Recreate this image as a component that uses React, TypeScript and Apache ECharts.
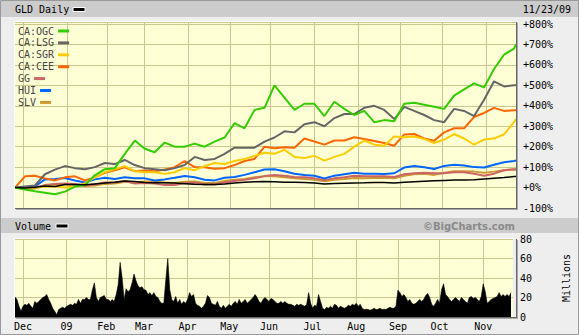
import { useEffect, useRef } from "react";
import * as echarts from "echarts";

// ---- axis / time data ----
const N = 252; // trading days, Nov 24 2008 .. Nov 23 2009
const monthStarts = [4, 26, 46, 65, 87, 108, 128, 150, 172, 193, 214, 236];
const monthLabels = ["Dec", "09", "Feb", "Mar", "Apr", "May", "Jun", "Jul", "Aug", "Sep", "Oct", "Nov"];
const pctTicks = { min: -100, max: 810, interval: 100 };
const volTicks = { min: 0, max: 80, interval: 20 };

// weekly sample days (trading-day index) for the percent-change lines
const sampleDays = [0,5,10,15,20,25,30,35,40,45,50,55,60,65,70,75,80,85,90,95,100,105,110,115,120,125,130,135,140,145,150,155,160,165,170,175,180,185,190,195,200,205,210,215,220,225,230,235,240,245,250,251];

// percent change series
const ogc = [0,-10,-18,-25,-33,-20,5,12,60,90,95,165,230,190,173,220,200,200,215,200,225,245,315,290,380,390,500,440,380,410,410,350,420,385,355,375,320,330,325,410,415,405,395,385,450,480,510,490,580,650,680,700];
const lsg = [0,5,10,65,88,105,95,90,100,120,115,135,110,95,90,85,95,110,150,135,140,165,195,195,195,225,245,275,270,310,320,300,340,360,360,390,400,380,335,395,375,355,330,320,385,375,350,430,520,495,500,500];
const sgr = [0,-3,0,5,5,0,5,20,50,75,90,105,80,75,75,67,75,95,85,105,120,115,130,140,155,170,165,185,150,145,155,132,150,165,200,230,210,205,250,246,250,238,218,235,262,240,210,235,240,260,320,335];
const cee = [0,55,58,45,35,50,55,35,50,72,85,99,80,83,80,88,100,130,100,99,92,95,110,130,140,200,192,197,195,240,225,210,230,230,246,238,228,218,205,260,262,240,229,270,290,290,345,365,390,375,378,378];
const gg = [0,-3,0,12,18,20,18,10,15,25,25,32,20,22,20,12,12,22,25,15,15,25,32,38,45,56,62,58,52,50,45,37,45,50,58,55,55,55,52,65,70,72,70,70,75,75,68,58,68,85,90,88];
const hui = [0,3,5,40,42,47,35,25,40,48,42,50,45,45,35,40,48,57,50,38,35,48,52,62,75,88,90,80,68,62,58,45,58,65,72,68,68,66,70,98,105,99,91,106,112,108,100,98,112,124,130,132];
const slv = [0,-8,-5,10,15,15,12,8,10,18,20,28,25,30,30,25,22,28,30,22,22,32,38,42,50,55,55,50,45,42,38,31,38,42,47,45,47,48,45,58,65,67,62,72,80,80,78,72,78,85,88,88];
const gld = [0,-2,2,8,5,15,15,14,18,22,26,32,30,25,24,23,22,19,16,15,15,18,22,26,29,30,28,26,26,25,22,18,20,21,22,23,25,25,22,26,29,31,33,35,37,37,38,42,46,49,54,54];

// daily volume, millions (GLD)
const volume = [
  20.6,18,11,6,11,13,12,14,11,9,16,14,16,18,20,21,23,18,14,9,6,2.4,7.6,9,10,9,11,12,13,12,
  14,13,18,14,18,18,20,18,18,28,35,20,16,20,21,22,18,18,16,18,16,23,33,56,40,18,29,26,28,35,
  44,37,32,30,31,28,27.5,23,25,22,25,21,20,16,14,14,
  38,60,28,18,16,21,14,18,13,16,14,18,25,21,23,14,12,11,9,11,14,22,20,14,13,12,16,11,9,12,
  9,11,13,11,14,16,13,18,14,16,18,14,16,18,20,23,20,16,14,18,20,18,16,19,18,16,14,14,16,14,16,14,13,
  13,12,11,13,12,13,12,11,13,25,14,9,12,11,23,16,9,7.6,10,9,11,9,13,12,9,11,10,9,10,12,
  11,13,12,14,11,13,9,7.6,8,7.6,7,7.6,9,7.6,8,9,7.6,8,7.6,9,10,9,9,11,27.5,25,21,23,20,16,
  18,14,13,14,16,18,16,18,22,24,20,13,11,14,18,14,28,34,23,21,18,16,18,20,18,16,20,18,16,14,
  20,21,19,20,18,16,21,34,26,14,16,18,19,20,21,25,21,23,21,23,21,25
];

const seriesNames = ["CA:OGC", "CA:LSG", "CA:SGR", "CA:CEE", "GG", "HUI", "SLV"];
const seriesValues = [ogc, lsg, sgr, cee, gg, hui, slv];
const seriesColors = ["#33CC00", "#666666", "#FFCC00", "#FF6600", "#CC6666", "#0066FF", "#CC9933"];

const MONO = "DejaVu Sans Mono";
const GRID_LINE = "#C9C98F";
const PLOT_BG = "#FFFFD6";

function buildOption(): any {
  const categories = Array.from({ length: N }, (_, i) => String(i));
  const isMonth = (i: number) => monthStarts.indexOf(i) >= 0;
  const pairs = (vals: number[]) => vals.map((v, i) => [sampleDays[i], v]);

  const lineSeries: any[] = [];
  const order = [6, 4, 5, 3, 2, 1, 0];
  order.forEach((k) => {
    lineSeries.push({
      name: seriesNames[k],
      type: "line",
      xAxisIndex: 0,
      yAxisIndex: 0,
      data: pairs(seriesValues[k]),
      symbol: "none",
      lineStyle: { width: 2, color: seriesColors[k] },
      itemStyle: { color: seriesColors[k] },
      z: 3,
    });
  });
  lineSeries.push({
    name: "GLD",
    type: "line",
    xAxisIndex: 0,
    yAxisIndex: 0,
    data: pairs(gld),
    symbol: "none",
    lineStyle: { width: 1.5, color: "#000" },
    itemStyle: { color: "#000" },
    z: 4,
  });
  lineSeries.push({
    name: "Volume",
    type: "line",
    xAxisIndex: 1,
    yAxisIndex: 1,
    data: volume,
    symbol: "none",
    lineStyle: { width: 0.6, color: "#000" },
    areaStyle: { color: "#000", opacity: 1 },
    z: 3,
  });

  const xBase = (gridIndex: number, showLabels: boolean) => ({
    type: "category",
    gridIndex,
    data: categories,
    boundaryGap: false,
    axisLine: { show: false },
    axisTick: { show: false },
    splitLine: {
      show: true,
      interval: (i: number) => isMonth(i),
      lineStyle: { color: GRID_LINE, width: 1 },
    },
    axisLabel: {
      show: showLabels,
      interval: (i: number) => isMonth(i),
      formatter: (_v: string, i: number) => {
        const k = monthStarts.indexOf(i);
        return k >= 0 ? monthLabels[k] : "";
      },
      margin: 4,
      color: "#000",
      fontFamily: MONO,
      fontSize: 10,
    },
  });

  const bevel = (x1: number, y1: number, x2: number, y2: number) => [
    { type: "line", z: 20, shape: { x1, y1: y1 - 0.5, x2, y2: y1 - 0.5 }, style: { stroke: "#FFFFFF", lineWidth: 1 } },
    { type: "line", z: 20, shape: { x1: x1 - 0.5, y1, x2: x1 - 0.5, y2 }, style: { stroke: "#FFFFFF", lineWidth: 1 } },
    { type: "line", z: 20, shape: { x1, y1: y2 + 0.5, x2: x2 + 1, y2: y2 + 0.5 }, style: { stroke: "#666666", lineWidth: 1 } },
    { type: "line", z: 20, shape: { x1: x2 + 0.5, y1, x2: x2 + 0.5, y2: y2 + 1 }, style: { stroke: "#666666", lineWidth: 1 } },
    { type: "line", z: 20, shape: { x1: x2 + 1.5, y1: y1 + 1, x2: x2 + 1.5, y2: y2 + 2 }, style: { stroke: "#AAAAAA", lineWidth: 1 } },
    { type: "line", z: 20, shape: { x1: x1 + 1, y1: y2 + 1.5, x2: x2 + 2, y2: y2 + 1.5 }, style: { stroke: "#AAAAAA", lineWidth: 1 } },
  ];

  const legends = seriesNames.map((name, i) => ({
    data: [name],
    orient: "horizontal",
    left: 18,
    top: 25 + i * 11.9,
    align: "right",
    icon: "rect",
    itemWidth: 11,
    itemHeight: 3,
    itemGap: 0,
    padding: 0,
    selectedMode: false,
    textStyle: { fontFamily: MONO, fontSize: 10, color: "#444", lineHeight: 12, padding: [0, -1, 0, 0] },
  }));

  return {
    animation: false,
    backgroundColor: "#EEEEEE",
    textStyle: { fontFamily: MONO },
    grid: [
      { left: 15, right: 63, top: 22, height: 186, show: true, backgroundColor: PLOT_BG, borderWidth: 0 },
      { left: 15, right: 63, top: 239, height: 78, show: true, backgroundColor: PLOT_BG, borderWidth: 0 },
    ],
    legend: legends,
    xAxis: [xBase(0, false), xBase(1, true)],
    yAxis: [
      {
        type: "value",
        gridIndex: 0,
        position: "right",
        min: pctTicks.min,
        max: pctTicks.max,
        interval: pctTicks.interval,
        axisLine: { show: false },
        axisTick: { show: false },
        splitLine: { show: true, lineStyle: { color: GRID_LINE, width: 1 } },
        axisLabel: {
          showMaxLabel: false,
          margin: 7,
          color: "#000",
          fontFamily: MONO,
          fontSize: 10,
          formatter: (v: number) => (v >= 0 ? `+${v}%` : `${v}%`),
        },
      },
      {
        type: "value",
        gridIndex: 1,
        position: "right",
        min: volTicks.min,
        max: volTicks.max,
        interval: volTicks.interval,
        name: "Millions",
        nameLocation: "middle",
        nameRotate: 90,
        nameGap: 48,
        nameTextStyle: { fontFamily: MONO, fontSize: 10, color: "#000" },
        axisLine: { show: false },
        axisTick: { show: false },
        splitLine: { show: true, lineStyle: { color: GRID_LINE, width: 1 } },
        axisLabel: { margin: 7, color: "#000", fontFamily: MONO, fontSize: 10 },
      },
    ],
    graphic: [
      { type: "rect", z: 0, shape: { x: 0.5, y: 0.5, width: 578, height: 334 }, style: { fill: "none", stroke: "#999999", lineWidth: 1 } },
      { type: "rect", z: 1, shape: { x: 1, y: 1, width: 577, height: 16 }, style: { fill: "#CCCCCC" } },
      { type: "text", z: 2, x: 15, y: 9.5, style: { text: "GLD Daily", fontFamily: MONO, fontSize: 10, fill: "#000", verticalAlign: "middle" } },
      { type: "rect", z: 2, shape: { x: 73, y: 7.5, width: 12, height: 4 }, style: { fill: "#000", stroke: "#FFFFFF", lineWidth: 1 } },
      { type: "text", z: 2, x: 571, y: 9.5, style: { text: "11/23/09", fontFamily: MONO, fontSize: 10, fill: "#000", align: "right", verticalAlign: "middle" } },
      { type: "rect", z: 1, shape: { x: 1, y: 218, width: 577, height: 15 }, style: { fill: "#CCCCCC" } },
      { type: "text", z: 2, x: 15, y: 226, style: { text: "Volume", fontFamily: MONO, fontSize: 10, fill: "#000", verticalAlign: "middle" } },
      { type: "rect", z: 2, shape: { x: 56, y: 224, width: 12, height: 4 }, style: { fill: "#000", stroke: "#FFFFFF", lineWidth: 1 } },
      { type: "text", z: 2, x: 515, y: 226, style: { text: "©BigCharts.com", fontFamily: "DejaVu Sans", fontWeight: "bold", fontSize: 10, fill: "#8A8A8A", align: "right", verticalAlign: "middle" } },
      ...bevel(15, 22, 516, 208),
      ...bevel(15, 239, 516, 317),
    ],
    series: lineSeries,
  };
}

export default function App() {
  const ref = useRef<HTMLDivElement>(null);
  useEffect(() => {
    document.body.style.margin = "0";
    const chart = echarts.init(ref.current as HTMLDivElement, null, { renderer: "svg" });
    chart.setOption(buildOption());
    return () => chart.dispose();
  }, []);
  return <div ref={ref} style={{ width: 579, height: 335 }} />;
}
